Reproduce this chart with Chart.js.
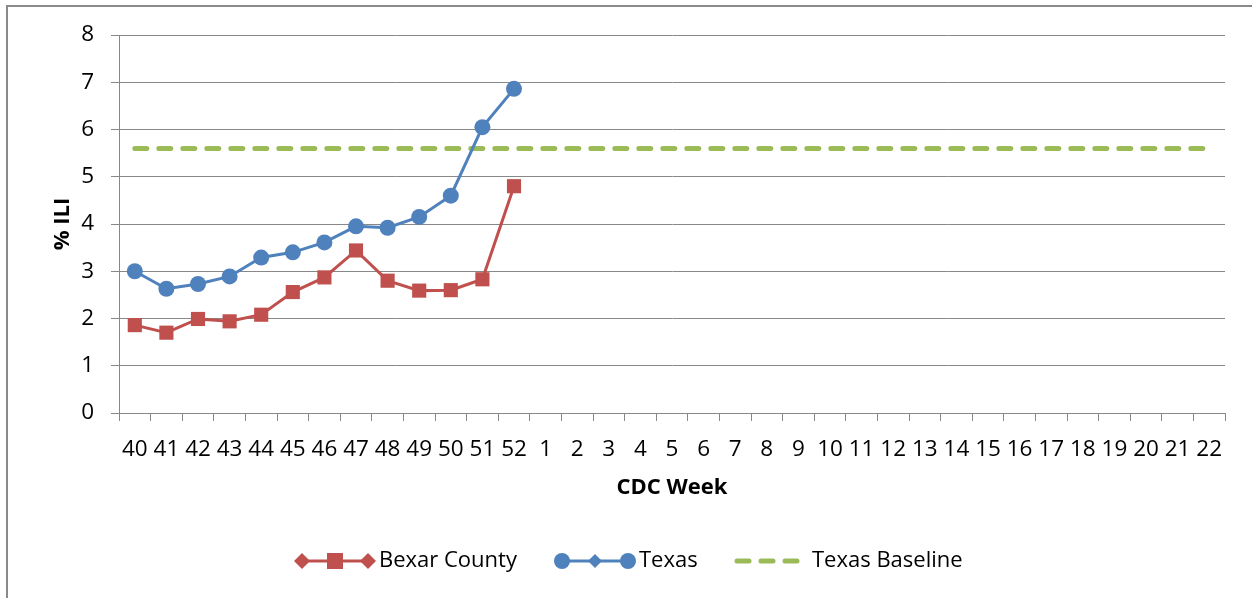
<!DOCTYPE html>
<html>
<head>
<meta charset="utf-8">
<title>% ILI by CDC Week</title>
<script src="https://cdn.jsdelivr.net/npm/chart.js@4.4.1/dist/chart.umd.min.js"></script>
<style>
    html, body { margin: 0; padding: 0; background: #fff; }
    #wrap { width: 1252px; height: 598px; }
</style>
</head>
<body>
<div id="wrap"><canvas id="ili-chart" width="1252" height="598"></canvas></div>
<script>
// CDC weeks shown on the x axis
const weeks = ['40', '41', '42', '43', '44', '45', '46', '47', '48', '49', '50', '51', '52',
    '1', '2', '3', '4', '5', '6', '7', '8', '9', '10', '11', '12', '13', '14', '15', '16',
    '17', '18', '19', '20', '21', '22'];

// % ILI (weeks 40 - 52 only)
const bexarCounty = [1.86, 1.70, 1.99, 1.94, 2.08, 2.56, 2.87, 3.44, 2.80, 2.59, 2.60, 2.83, 4.80];
const texas = [3.00, 2.63, 2.73, 2.89, 3.29, 3.40, 3.61, 3.95, 3.92, 4.15, 4.60, 6.05, 6.86];
const texasBaseline = [5.6, 5.6, 5.6, 5.6, 5.6, 5.6, 5.6, 5.6, 5.6, 5.6, 5.6, 5.6, 5.6,
    5.6, 5.6, 5.6, 5.6, 5.6, 5.6, 5.6, 5.6, 5.6, 5.6, 5.6, 5.6, 5.6, 5.6, 5.6, 5.6,
    5.6, 5.6, 5.6, 5.6, 5.6, 5.6];

const yTicks = [0, 1, 2, 3, 4, 5, 6, 7, 8];

const RED = '#C0504D';
const BLUE = '#4F81BD';
const GREEN = '#9BBB59';
const GRID = '#888888';
const FONT = "'Open Sans', 'Liberation Sans', sans-serif";

// Gray frame (only the top and left edges show in the picture)
const framePlugin = {
    id: 'frame',
    beforeDraw(chart) {
        const ctx = chart.ctx;
        ctx.save();
        ctx.strokeStyle = '#8a8a8a';
        ctx.lineWidth = 2;
        ctx.beginPath();
        ctx.moveTo(7, chart.height);
        ctx.lineTo(7, 6);
        ctx.lineTo(chart.width, 6);
        ctx.stroke();
        ctx.restore();
    }
};

function drawMarker(ctx, style, x, y, r, color) {
    ctx.fillStyle = color;
    ctx.beginPath();
    if (style === 'circle') {
        ctx.arc(x, y, r, 0, Math.PI * 2);
    } else if (style === 'rect') {
        ctx.rect(x - r, y - r, r * 2, r * 2);
    } else if (style === 'diamond') {
        ctx.moveTo(x, y - r);
        ctx.lineTo(x + r, y);
        ctx.lineTo(x, y + r);
        ctx.lineTo(x - r, y);
        ctx.closePath();
    }
    ctx.fill();
}

// Excel-style legend: line with end markers and a centre marker
const legendPlugin = {
    id: 'excelLegend',
    afterDraw(chart) {
        const ctx = chart.ctx;
        const y = 561;
        const items = [
            { x: 294, text: 'Bexar County', color: RED, ends: 'diamond', mid: 'rect', endR: 8, midR: 8 },
            { x: 554, text: 'Texas', color: BLUE, ends: 'circle', mid: 'diamond', endR: 8, midR: 7 },
            { x: 734, text: 'Texas Baseline', color: GREEN, dashed: true }
        ];
        ctx.save();
        items.forEach(item => {
            if (item.dashed) {
                ctx.strokeStyle = item.color;
                ctx.lineWidth = 5;
                ctx.lineCap = 'round';
                ctx.setLineDash([12, 12]);
                ctx.beginPath();
                ctx.moveTo(item.x + 3, y);
                ctx.lineTo(item.x + 66, y);
                ctx.stroke();
                ctx.setLineDash([]);
                ctx.lineCap = 'butt';
            } else {
                ctx.strokeStyle = item.color;
                ctx.lineWidth = 3;
                ctx.beginPath();
                ctx.moveTo(item.x + 7, y);
                ctx.lineTo(item.x + 74, y);
                ctx.stroke();
                drawMarker(ctx, item.ends, item.x + item.endR, y, item.endR, item.color);
                drawMarker(ctx, item.ends, item.x + 82 - item.endR, y, item.endR, item.color);
                drawMarker(ctx, item.mid, item.x + 41, y, item.midR, item.color);
            }
            ctx.fillStyle = '#000';
            ctx.font = `22px ${FONT}`;
            ctx.textBaseline = 'middle';
            ctx.textAlign = 'left';
            ctx.fillText(item.text, item.dashed ? item.x + 78 : item.x + 85, y);
        });
        ctx.restore();
    }
};

const context = document.getElementById('ili-chart').getContext('2d');

new Chart(context, {
    type: 'line',
    data: {
        labels: weeks,
        datasets: [
            {
                label: 'Bexar County',
                data: bexarCounty,
                borderColor: RED,
                backgroundColor: RED,
                borderWidth: 3,
                pointStyle: 'rect',
                pointRadius: 10,
                pointBorderWidth: 0,
                tension: 0,
                order: 2
            },
            {
                label: 'Texas',
                data: texas,
                borderColor: BLUE,
                backgroundColor: BLUE,
                borderWidth: 3,
                pointStyle: 'circle',
                pointRadius: 8,
                pointBorderWidth: 0,
                tension: 0,
                order: 1
            },
            {
                label: 'Texas Baseline',
                data: texasBaseline,
                borderColor: GREEN,
                borderWidth: 5,
                borderDash: [12, 12],
                borderCapStyle: 'round',
                pointRadius: 0,
                tension: 0,
                order: 3
            }
        ]
    },
    options: {
        responsive: false,
        animation: false,
        layout: {
            padding: { top: 35, right: 27, left: 0, bottom: 0 }
        },
        plugins: {
            legend: { display: false },
            tooltip: { enabled: false }
        },
        scales: {
            y: {
                min: 0,
                max: 8,
                afterFit(scale) { scale.width = 119; },
                afterBuildTicks(scale) { scale.ticks = yTicks.map(v => ({ value: v })); },
                ticks: {
                    color: '#000',
                    padding: 17,
                    font: { family: FONT, size: 22.5 }
                },
                grid: {
                    color: GRID,
                    lineWidth: 1,
                    tickLength: 8
                },
                border: { color: GRID, width: 1 },
                title: {
                    display: true,
                    text: '% ILI',
                    color: '#000',
                    font: { family: FONT, size: 22, weight: 'bold' },
                    padding: { top: 50, bottom: 0 }
                }
            },
            x: {
                offset: true,
                afterFit(scale) { scale.height = 185; },
                ticks: {
                    color: '#000',
                    padding: 15,
                    maxRotation: 0,
                    autoSkip: false,
                    font: { family: FONT, size: 22.5 }
                },
                grid: {
                    offset: true,
                    drawOnChartArea: false,
                    color: GRID,
                    tickLength: 8
                },
                border: { color: GRID, width: 1 },
                title: {
                    display: true,
                    text: 'CDC Week',
                    color: '#000',
                    font: { family: FONT, size: 22, weight: 'bold' },
                    padding: { top: 0, bottom: 97 }
                }
            }
        }
    },
    plugins: [framePlugin, legendPlugin]
});
</script>
</body>
</html>
